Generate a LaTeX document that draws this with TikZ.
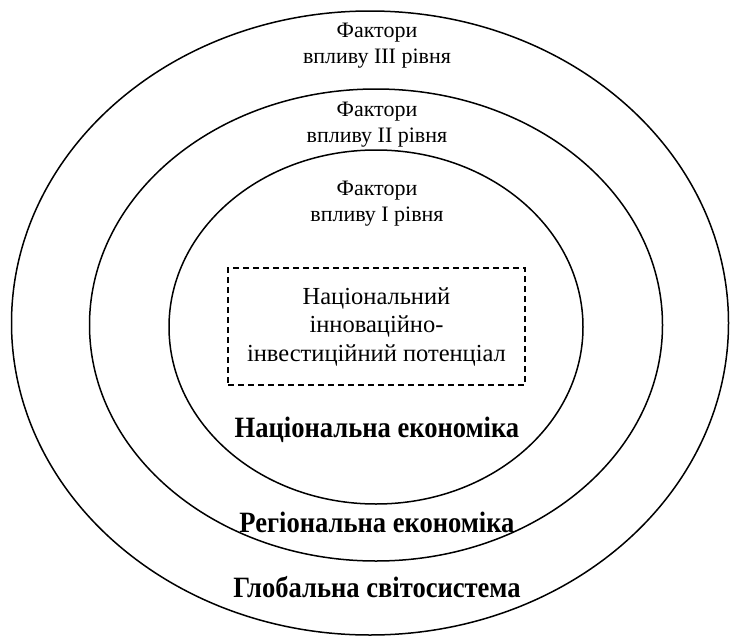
\documentclass[tikz,border=0pt]{standalone}
\usepackage{fontspec}
\setmainfont{Liberation Serif}
\newfontfamily\levelfont{Liberation Serif}[FakeStretch=0.9]
\usepackage{tikz}
\usetikzlibrary{shapes.geometric, positioning}

\begin{document}
\begin{tikzpicture}[
  x=1pt, y=-1pt,
  ring/.style={draw, ellipse, line width=1.5pt, inner sep=0pt},
  factor/.style={font=\fontsize{22}{26}\selectfont, align=center, inner sep=0pt},
  level/.style={font=\levelfont\fontsize{29.5}{32}\selectfont\bfseries, inner sep=0pt},
  core/.style={draw, dashed, line width=2pt, dash pattern=on 6pt off 4pt,
               minimum width=297pt, minimum height=117pt,
               font=\fontsize{24.5}{28.5}\selectfont, align=center},
]
  \useasboundingbox (0,0) rectangle (731,637);

  % rings
  \node[ring, minimum width=717pt, minimum height=624pt] (glob) at (370,323) {};
  \node[ring, minimum width=573pt, minimum height=472pt] (reg)  at (376,325) {};
  \node[ring, minimum width=414pt, minimum height=354pt] (nat)  at (376,327) {};

  % factors
  \node[factor] (f3) at (377,46)  {Фактори\\впливу III рівня};
  \node[factor] (f2) at (377,125) {Фактори\\впливу II рівня};
  \node[factor] (f1) at (377,204) {Фактори\\впливу I рівня};

  \node[core] (pot) at (376.5,326.5) {Національний\\інноваційно-\\інвестиційний потенціал};

  % level names
  \node[level] (natlbl)  at (377,430) {Національна економіка};
  \node[level] (reglbl)  at (377,522) {Регіональна економіка};
  \node[level] (globlbl) at (377,587) {Глобальна світосистема};
\end{tikzpicture}
\end{document}
